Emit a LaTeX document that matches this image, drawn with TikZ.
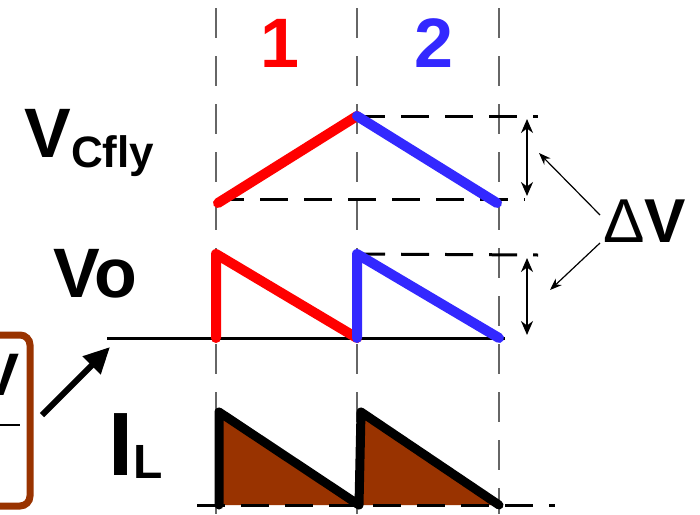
\documentclass[tikz,border=0pt]{standalone}
\usepackage{fontspec}
\setsansfont{Liberation Sans}
\usepackage{tikz}
\usetikzlibrary{arrows.meta,positioning}
\definecolor{wvred}{RGB}{255,0,0}
\definecolor{wvblue}{RGB}{51,40,255}
\definecolor{ilbrown}{RGB}{153,51,0}

\begin{document}
\begin{tikzpicture}[
  x=0.5pt, y=-0.5pt,
  phase/.style={draw=black!60, line width=1pt, dash pattern=on 15pt off 9pt},
  level/.style={draw=black, line width=1.5pt, dash pattern=on 14pt off 8pt},
  wave/.style={line width=5pt, line cap=round, line join=round},
  span/.style={{Stealth[length=7pt,width=6pt]}-{Stealth[length=7pt,width=6pt]}, line width=1pt},
  note/.style={-{Stealth[length=6pt,width=4.5pt]}, line width=0.6pt},
  lbl/.style={font=\sffamily\bfseries\fontsize{35}{35}\selectfont, inner sep=0pt}
]
  \useasboundingbox (0,0) rectangle (700,514);

  \foreach \x/\n in {216/a, 357/b, 499/c} {
    \coordinate (top\n) at (\x,8);
    \coordinate (bot\n) at (\x,514);
    \draw[phase] (top\n) -- (bot\n);
  }

  \node[lbl, text=wvred] (ph1) at (280,43) {1};
  \node[lbl, text=wvblue] (ph2) at (434,43) {2};
  \node[lbl, anchor=base west] (vcfly) at (24,157) {V\raisebox{-5pt}{\fontsize{22}{22}\selectfont Cfly}};
  \node[lbl, anchor=base west] (vo) at (53,297) {Vo};
  \node[lbl, anchor=base west, font=\sffamily\bfseries\fontsize{45}{45}\selectfont] (il) at (108,475) {I\raisebox{-1.5pt}{\fontsize{24}{24}\selectfont L}};
  \node[anchor=base west, inner sep=0pt, font=\sffamily\fontsize{31}{31}\selectfont] (dv) at (603,242) {Δ\textbf{V}};

  \coordinate (cfa) at (218,203);
  \coordinate (cfb) at (357,116);
  \coordinate (cfc) at (497,203);
  \coordinate (cfhi) at (538,116);
  \coordinate (cflo) at (216,199);
  \coordinate (cfloe) at (525,199);
  \draw[level] (cfb) -- (cfhi);
  \draw[level] (cflo) -- (cfloe);
  \draw[wave, wvred] (cfa) -- (cfb);
  \draw[wave, wvblue] (cfb) -- (cfc);
  \draw[span] (527,119) coordinate (s1a) -- (527,196) coordinate (s1b);

  \coordinate (base0) at (107,338);
  \coordinate (base1) at (505,338);
  \coordinate (voa) at (216,338);
  \coordinate (vob) at (216,254);
  \coordinate (voc) at (357,338);
  \coordinate (vod) at (357,254);
  \coordinate (voe) at (499,338);
  \coordinate (vohi) at (538,255);
  \draw[level] (vod) -- (vohi);
  \draw[line width=1.5pt] (base0) -- (base1);
  \draw[wave, wvred] (voa) -- (vob) -- (voc);
  \draw[wave, wvblue] (voc) -- (vod) -- (voe);
  \draw[span] (527,258) coordinate (s2a) -- (527,335) coordinate (s2b);

  \coordinate (dv1) at (600,215);
  \coordinate (dv1e) at (539,153);
  \coordinate (dv2) at (600,243);
  \coordinate (dv2e) at (550,290);
  \draw[note] (dv1) -- (dv1e);
  \draw[note] (dv2) -- (dv2e);

  \coordinate (ila) at (219,505);
  \coordinate (ilb) at (219,412);
  \coordinate (ilc) at (359,505);
  \coordinate (ild) at (361,412);
  \coordinate (ile) at (499,505);
  \fill[ilbrown] (ila) -- (ilb) -- (ilc) -- cycle;
  \fill[ilbrown] (ilc) -- (ild) -- (ile) -- cycle;
  \draw[level] (197,505) coordinate (ilz0) -- (555,505) coordinate (ilz1);
  \draw[wave, line width=4.5pt] (ila) -- (ilb) -- (ilc) -- (ild) -- (ile);

  \draw[ilbrown, line width=3.5pt, rounded corners=5pt] (-60,335) rectangle (30,506);
  \node[lbl, anchor=base east, font=\sffamily\bfseries\fontsize{30}{30}\selectfont] (vbox) at (20,395) {V};
  \draw[line width=1pt] (-10,425) coordinate (bar0) -- (20,425) coordinate (bar1);
  \coordinate (arr0) at (42,415);
  \coordinate (arr1) at (110,347);
  \draw[-{Triangle[length=13pt,width=12pt]}, line width=3pt] (arr0) -- (arr1);
\end{tikzpicture}
\end{document}
